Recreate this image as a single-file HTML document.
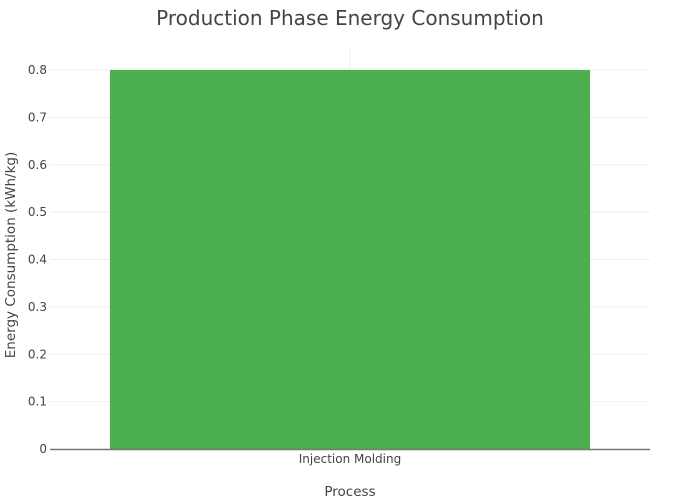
<!DOCTYPE html>
<html><head><meta charset="utf-8"><style>
body{margin:0;background:#fff;}
svg{display:block;font-family:"DejaVu Sans","Liberation Sans",sans-serif;}
</style></head><body>
<svg id="chart" width="700" height="500">
<rect width="700" height="500" fill="#fff"/>
<text x="350" y="25" text-anchor="middle" font-size="20" fill="#444">Production Phase Energy Consumption</text>
<g id="grid"></g>
<g id="bars"></g>
<g id="yticks"></g>
<line x1="50" x2="650" y1="449.5" y2="449.5" stroke="#777" stroke-width="1.5"/>
<g id="xticks"></g>
<text x="350" y="496" text-anchor="middle" font-size="13.5" fill="#444">Process</text>
<text transform="translate(15,255) rotate(-90)" text-anchor="middle" font-size="13.5" fill="#444">Energy Consumption (kWh/kg)</text>
</svg>
<script>
const categories = ["Injection Molding"];
const values = [0.8];
const yTicks = [0, 0.1, 0.2, 0.3, 0.4, 0.5, 0.6, 0.7, 0.8];
const yTickLabels = ["0", "0.1", "0.2", "0.3", "0.4", "0.5", "0.6", "0.7", "0.8"];

const NS = "http://www.w3.org/2000/svg";
const L = 50, R = 650, T = 50, B = 449;
const yMax = 0.8 * (B - T) / (B - 70);
function y(v){ return B - v / yMax * (B - T); }
const band = (R - L) / categories.length;
function xc(i){ return L + band * (i + 0.5); }
function mk(tag, attrs, parent){ const e = document.createElementNS(NS, tag); for (const k in attrs) e.setAttribute(k, attrs[k]); parent.appendChild(e); return e; }

const grid = document.getElementById('grid');
const yt = document.getElementById('yticks');
yTicks.forEach((t, i) => {
  if (t !== 0) {
    const g = mk('line', {x1: L, x2: R, y1: y(t), y2: y(t), stroke: '#eee', 'stroke-width': 1}, grid);
    
    
  }
  const tx = mk('text', {x: 47, y: y(t) + 4, 'text-anchor': 'end', 'font-size': 12, fill: '#444'}, yt);
  tx.textContent = yTickLabels[i];
  
  
});
categories.forEach((c, i) => {
  const vg = mk('line', {x1: xc(i), x2: xc(i), y1: T, y2: B, stroke: '#eee', 'stroke-width': 1}, grid);
  
  
  const w = band * 0.8;
  const r = mk('rect', {x: xc(i) - w / 2, y: y(values[i]), width: w, height: B - y(values[i]), fill: '#4CAF50'}, document.getElementById('bars'));
  
  
  const tx = mk('text', {x: xc(i), y: 463, 'text-anchor': 'middle', 'font-size': 12, fill: '#444'}, document.getElementById('xticks'));
  tx.textContent = c;
  
  
});
</script>
</body></html>
